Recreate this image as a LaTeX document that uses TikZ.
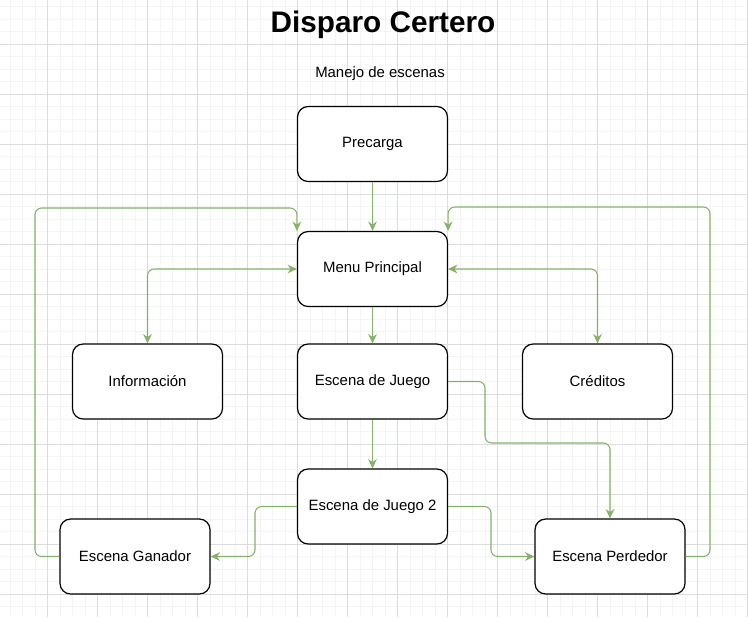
\documentclass[tikz,border=0pt]{standalone}
\usepackage{fontspec}
\setmainfont{Liberation Sans}
\usetikzlibrary{arrows.meta,positioning}
\definecolor{linkgreen}{HTML}{82B366}
\definecolor{gridmajor}{HTML}{DCDCDC}
\definecolor{gridminor}{HTML}{F4F4F4}

\begin{document}
\begin{tikzpicture}[x=0.75pt, y=-0.75pt, >={Stealth[length=7pt,width=6.5pt]},
    scene/.style={draw, fill=white, line width=0.9pt, rounded corners=8pt,
      minimum width=112.5pt, minimum height=56.25pt, font=\fontsize{11.2}{13}\selectfont},
    link/.style={draw=linkgreen, line width=0.8pt, rounded corners=5pt}]
      \useasboundingbox (0,0) rectangle (748,617);
      \fill[white] (0,0) rectangle (748,617);

      % grid
      \foreach \k in {0,...,59}
        \draw[gridminor, line width=0.6pt] (10+12.5*\k, 0) -- (10+12.5*\k, 617);
      \foreach \k in {0,...,48}
        \draw[gridminor, line width=0.6pt] (0, 6.5+12.5*\k) -- (748, 6.5+12.5*\k);
      \foreach \k in {0,...,14}
        \draw[gridmajor, line width=0.7pt] (47.5+50*\k, 0) -- (47.5+50*\k, 617);
      \foreach \k in {0,...,11}
        \draw[gridmajor, line width=0.7pt] (0, 44+50*\k) -- (748, 44+50*\k);

      \node[font=\bfseries\fontsize{22.3}{25}\selectfont] (title) at (383, 25) {Disparo Certero};
      \node[font=\fontsize{11.2}{13}\selectfont] (subtitle) at (380, 74) {Manejo de escenas};

      \node[scene] (precarga) at (372.5, 144) {Precarga};
      \node[scene] (menu) at (372.5, 269) {Menu Principal};
      \node[scene] (info) at (147.5, 381.5) {Información};
      \node[scene] (juego) at (372.5, 381.5) {Escena de Juego};
      \node[scene] (creditos) at (597.5, 381.5) {Créditos};
      \node[scene] (juego2) at (372.5, 506.5) {Escena de Juego 2};
      \node[scene] (ganador) at (135, 556.5) {Escena Ganador};
      \node[scene] (perdedor) at (610, 556.5) {Escena Perdedor};

      \draw[link, ->] (precarga) -- (menu);
      \draw[link, <->] (menu.west) -| (info.north);
      \draw[link, <->] (menu.east) -| (creditos.north);
      \draw[link, ->] (menu) -- (juego);
      \draw[link, ->] (juego) -- (juego2);
      \draw[link, ->] (juego.east) -| (485, 443) -| (perdedor.north);
      \draw[link, ->] (juego2.west) -| (255, 556.5) -- (ganador.east);
      \draw[link, ->] (juego2.east) -| (491, 556.5) -- (perdedor.west);
      \draw[link, ->] (ganador.west) -| (35, 208) -| (menu.north west);
      \draw[link, ->] (perdedor.east) -| (710, 207) -| (menu.north east);
    \end{tikzpicture}
\end{document}
